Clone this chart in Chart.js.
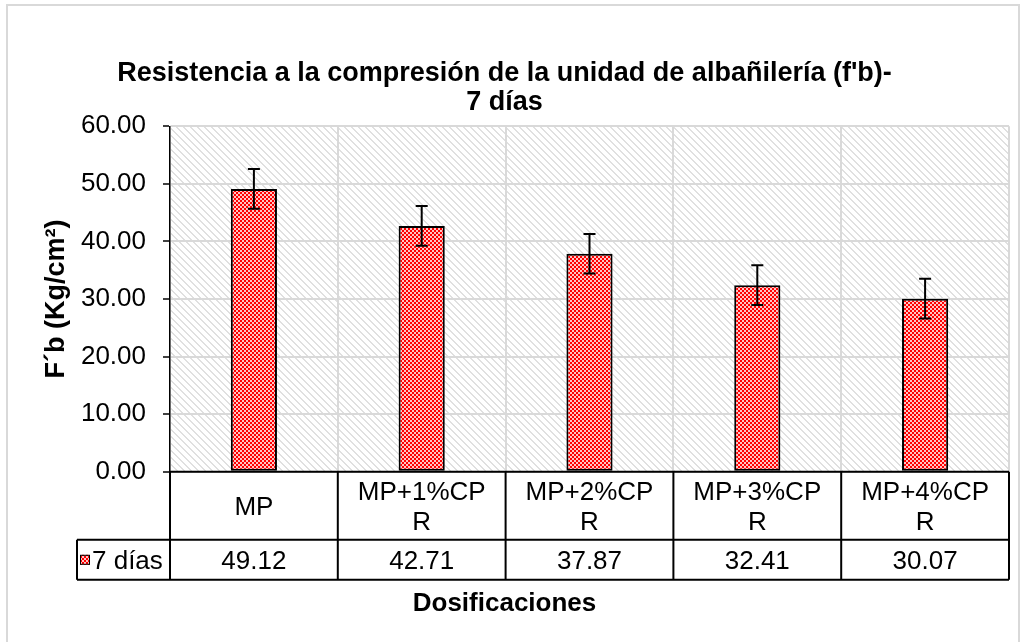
<!DOCTYPE html>
<html>
<head>
<meta charset="utf-8">
<script src="https://cdn.jsdelivr.net/npm/chart.js@4/dist/chart.umd.min.js"></script>
<style>
  body { margin: 0; background: #fff; }
  canvas { display: block; }
</style>
</head>
<body>
<canvas id="resChart" width="1025" height="642"></canvas>
<script>
// data
const categories = [["MP"], ["MP+1%CP", "R"], ["MP+2%CP", "R"], ["MP+3%CP", "R"], ["MP+4%CP", "R"]];
const seriesName = "7 días";
const fbValues = [49.12, 42.71, 37.87, 32.41, 30.07];
const fbErrors = [3.45, 3.45, 3.45, 3.45, 3.45];
const yMin = 0, yMax = 60, yStep = 10;

const FONT = "'Liberation Sans', Arial, sans-serif";
const canvas = document.getElementById("resChart");
const ctx = canvas.getContext("2d");

// light downward diagonal hatch for the plot area
function makeHatch() {
    const n = 7;
    const c = document.createElement("canvas");
    c.width = n; c.height = n;
    const g = c.getContext("2d");
    g.fillStyle = "#ffffff";
    g.fillRect(0, 0, n, n);
    g.fillStyle = "#e0e0e0";
    for (let i = 0; i < n; i++) {
        g.fillRect(i, i, 1, 1);
        g.fillRect((i + 1) % n, i, 1, 1);
    }
    return ctx.createPattern(c, "repeat");
}

// small red/white checker for the bars
function makeChecker() {
    const c = document.createElement("canvas");
    c.width = 4; c.height = 4;
    const g = c.getContext("2d");
    g.fillStyle = "#ffc4c4";
    g.fillRect(0, 0, 4, 4);
    g.fillStyle = "#ff0000";
    g.fillRect(0, 0, 2, 2);
    g.fillRect(2, 2, 2, 2);
    return ctx.createPattern(c, "repeat");
}

const hatch = makeHatch();
const checker = makeChecker();

const frameAndBackground = {
    id: "frameAndBackground",
    beforeDraw(chart) {
        const c = chart.ctx, a = chart.chartArea;
        c.save();
        c.fillStyle = "#ffffff";
        c.fillRect(0, 0, chart.width, chart.height);
        c.strokeStyle = "#d9d9d9";
        c.lineWidth = 2;
        c.strokeRect(7, 5, 1012, 645);
        c.fillStyle = hatch;
        c.fillRect(a.left, a.top, a.right - a.left, a.bottom - a.top);
        c.restore();
    }
};

const errorBars = {
    id: "errorBars",
    afterDatasetsDraw(chart) {
        const c = chart.ctx, y = chart.scales.y;
        const meta = chart.getDatasetMeta(0);
        c.save();
        c.strokeStyle = "#000";
        c.lineWidth = 2;
        meta.data.forEach((bar, i) => {
            const top = y.getPixelForValue(fbValues[i] + fbErrors[i]);
            const bot = y.getPixelForValue(fbValues[i] - fbErrors[i]);
            c.beginPath();
            c.moveTo(bar.x, top); c.lineTo(bar.x, bot);
            c.moveTo(bar.x - 6, top); c.lineTo(bar.x + 6, top);
            c.moveTo(bar.x - 6, bot); c.lineTo(bar.x + 6, bot);
            c.stroke();
        });
        c.restore();
    }
};

// Excel style data table under the plot
const dataTable = {
    id: "dataTable",
    afterDraw(chart) {
        const c = chart.ctx, x = chart.scales.x, a = chart.chartArea;
        const half = (x.getPixelForValue(1) - x.getPixelForValue(0)) / 2;
        const rowTop = a.bottom, rowMid = a.bottom + 68, rowBot = a.bottom + 108;
        const legLeft = 77;
        c.save();
        c.strokeStyle = "#000";
        c.lineWidth = 2;
        c.beginPath();
        c.moveTo(a.left, rowTop); c.lineTo(a.right, rowTop);
        c.moveTo(legLeft, rowMid); c.lineTo(a.right, rowMid);
        c.moveTo(legLeft, rowBot); c.lineTo(a.right, rowBot);
        c.moveTo(legLeft, rowMid); c.lineTo(legLeft, rowBot);
        for (let i = 0; i <= categories.length; i++) {
            const ex = x.getPixelForValue(i) - half;
            c.moveTo(ex, rowTop); c.lineTo(ex, rowBot);
        }
        c.stroke();

        c.fillStyle = "#000";
        c.font = "26px " + FONT;
        c.textAlign = "center";
        c.textBaseline = "alphabetic";
        const cap = 26 * 0.716 / 2;
        const lh = 30;
        categories.forEach((lines, i) => {
            const cx = x.getPixelForValue(i);
            const cy = (rowTop + rowMid) / 2 - (lines.length - 1) * lh / 2;
            lines.forEach((t, k) => c.fillText(t, cx, cy + k * lh + cap));
            c.fillText(fbValues[i].toFixed(2), cx, (rowMid + rowBot) / 2 + cap);
        });

        // legend key + series name
        const ky = (rowMid + rowBot) / 2;
        c.fillStyle = checker;
        c.fillRect(80, ky - 5, 10, 10);
        c.lineWidth = 1;
        c.strokeStyle = "#000";
        c.strokeRect(80.5, ky - 4.5, 9, 9);
        c.fillStyle = "#000";
        c.textAlign = "left";
        c.fillText(seriesName, 92, ky + cap);
        c.restore();
    }
};

new Chart(ctx, {
    type: "bar",
    data: {
        labels: categories,
        datasets: [{
            label: seriesName,
            data: fbValues,
            backgroundColor: checker,
            borderColor: "#000000",
            borderWidth: 2,
            borderSkipped: false,
            categoryPercentage: 1,
            barPercentage: 0.275
        }]
    },
    options: {
        responsive: false,
        devicePixelRatio: 1,
        animation: false,
        layout: { padding: { left: 0, right: 16, top: 0, bottom: 0 } },
        plugins: {
            legend: { display: false },
            tooltip: { enabled: false },
            title: {
                display: true,
                text: ["Resistencia a la compresión de la unidad de albañilería (f'b)-", "7 días"],
                color: "#000",
                font: { family: FONT, size: 27, weight: "bold", lineHeight: 1.08 },
                padding: { top: 59, bottom: 9 }
            },
            subtitle: {
                display: true,
                position: "bottom",
                text: "Dosificaciones",
                color: "#000",
                font: { family: FONT, size: 26, weight: "bold", lineHeight: 1.2 },
                padding: { top: 10, bottom: 23 }
            }
        },
        scales: {
            x: {
                ticks: { display: false },
                grid: { color: "#d9d9d9", lineWidth: 2, drawTicks: false, offset: true },
                border: { display: false },
                afterFit(s) { s.height = 106; }
            },
            y: {
                min: yMin,
                max: yMax,
                ticks: {
                    stepSize: yStep,
                    color: "#000",
                    padding: 17,
                    font: { family: FONT, size: 26 },
                    callback: v => Number(v).toFixed(2)
                },
                grid: { color: "#d9d9d9", lineWidth: 2, tickLength: 7, tickColor: "#000", tickWidth: 1.5 },
                border: { display: true, color: "#000", width: 1.5 },
                title: {
                    display: true,
                    text: "F´b (Kg/cm²)",
                    color: "#000",
                    font: { family: FONT, size: 27, weight: "bold" },
                    padding: { top: 40, bottom: 0 }
                },
                afterFit(s) { s.width = 170; }
            }
        }
    },
    plugins: [frameAndBackground, errorBars, dataTable]
});
</script>
</body>
</html>
